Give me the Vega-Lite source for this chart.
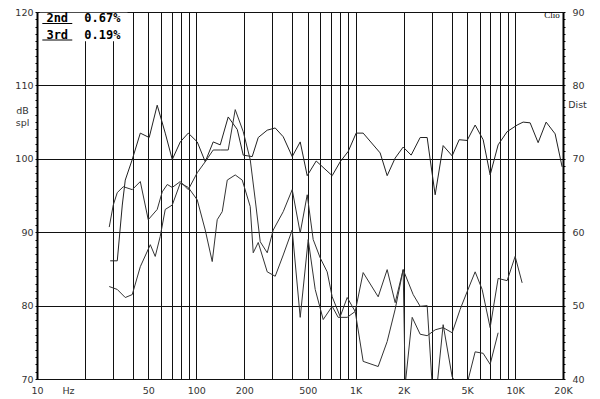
{
  "$schema": "https://vega.github.io/schema/vega-lite/v6.json",
  "width": 526,
  "height": 367,
  "autosize": "none",
  "padding": {"left": 37, "top": 12, "right": 37, "bottom": 20},
  "background": "white",
  "config": {
    "view": {"stroke": null},
    "axis": {"labelFont": "DejaVu Sans", "labelFontSize": 9.5, "labelColor": "#333", "titleFont": "DejaVu Sans", "titleFontSize": 9.5, "titleFontWeight": "normal", "titleColor": "#333"}
  },
  "datasets": {
    "fundamental": [
      {"freq": 28.8, "spl": 86.1}, {"freq": 31.9, "spl": 86.1}, {"freq": 34.3, "spl": 93.7}, {"freq": 35.8, "spl": 97.1},
      {"freq": 39.6, "spl": 99.9}, {"freq": 44.5, "spl": 103.5}, {"freq": 50.6, "spl": 102.9}, {"freq": 56.8, "spl": 107.3},
      {"freq": 63.8, "spl": 103.5}, {"freq": 70.6, "spl": 99.9}, {"freq": 79.3, "spl": 102.3}, {"freq": 89.0, "spl": 103.5},
      {"freq": 101.3, "spl": 102.3}, {"freq": 113.7, "spl": 99.6}, {"freq": 127.6, "spl": 102.3}, {"freq": 141.2, "spl": 101.9},
      {"freq": 158.5, "spl": 105.7}, {"freq": 180.6, "spl": 104.0}, {"freq": 196.9, "spl": 100.5}, {"freq": 224.2, "spl": 100.3},
      {"freq": 244.6, "spl": 102.9}, {"freq": 278.5, "spl": 103.9}, {"freq": 312.6, "spl": 104.2}, {"freq": 351.0, "spl": 103.0},
      {"freq": 399.6, "spl": 100.3}, {"freq": 448.6, "spl": 102.3}, {"freq": 496.3, "spl": 97.7}, {"freq": 565.2, "spl": 99.7},
      {"freq": 712.0, "spl": 97.7}, {"freq": 799.4, "spl": 99.6}, {"freq": 897.4, "spl": 101.0}, {"freq": 1007, "spl": 103.5},
      {"freq": 1114, "spl": 103.5}, {"freq": 1424, "spl": 100.8}, {"freq": 1576, "spl": 97.7}, {"freq": 1769, "spl": 100.1},
      {"freq": 1986, "spl": 101.6}, {"freq": 2229, "spl": 100.5}, {"freq": 2539, "spl": 102.9}, {"freq": 2809, "spl": 102.9},
      {"freq": 2934, "spl": 99.9}, {"freq": 3153, "spl": 95.1}, {"freq": 3539, "spl": 101.8}, {"freq": 4031, "spl": 100.4},
      {"freq": 4461, "spl": 102.6}, {"freq": 5006, "spl": 102.5}, {"freq": 5619, "spl": 104.6}, {"freq": 6308, "spl": 102.6},
      {"freq": 6980, "spl": 97.8}, {"freq": 7834, "spl": 101.9}, {"freq": 8921, "spl": 103.7}, {"freq": 10308, "spl": 104.6},
      {"freq": 11240, "spl": 105.0}, {"freq": 12437, "spl": 104.9}, {"freq": 13964, "spl": 102.2}, {"freq": 15675, "spl": 105.0},
      {"freq": 17850, "spl": 103.4}, {"freq": 19748, "spl": 98.9}
    ],
    "harmonics": [
      {"order": "2nd", "freq": 28.4, "dist": 52.6}, {"order": "2nd", "freq": 31.9, "dist": 52.2}, {"order": "2nd", "freq": 35.8, "dist": 51.1},
      {"order": "2nd", "freq": 39.6, "dist": 51.5}, {"order": "2nd", "freq": 44.5, "dist": 55.3}, {"order": "2nd", "freq": 51.4, "dist": 58.3},
      {"order": "2nd", "freq": 55.2, "dist": 56.7}, {"order": "2nd", "freq": 59.3, "dist": 59.4}, {"order": "2nd", "freq": 63.8, "dist": 63.1},
      {"order": "2nd", "freq": 70.6, "dist": 63.7}, {"order": "2nd", "freq": 79.3, "dist": 66.7}, {"order": "2nd", "freq": 89.0, "dist": 66.1},
      {"order": "2nd", "freq": 101.3, "dist": 64.4}, {"order": "2nd", "freq": 113.7, "dist": 60.3}, {"order": "2nd", "freq": 125.8, "dist": 56.0},
      {"order": "2nd", "freq": 135.2, "dist": 61.7}, {"order": "2nd", "freq": 145.4, "dist": 62.8}, {"order": "2nd", "freq": 156.3, "dist": 67.1},
      {"order": "2nd", "freq": 175.4, "dist": 67.8}, {"order": "2nd", "freq": 194.1, "dist": 67.1}, {"order": "2nd", "freq": 217.8, "dist": 63.5},
      {"order": "2nd", "freq": 227.5, "dist": 57.2}, {"order": "2nd", "freq": 244.6, "dist": 58.6}, {"order": "2nd", "freq": 278.5, "dist": 54.6},
      {"order": "2nd", "freq": 312.6, "dist": 54.0}, {"order": "2nd", "freq": 351.0, "dist": 56.9}, {"order": "2nd", "freq": 399.6, "dist": 60.3},
      {"order": "2nd", "freq": 448.6, "dist": 48.4}, {"order": "2nd", "freq": 503.5, "dist": 59.0}, {"order": "2nd", "freq": 557.1, "dist": 52.2},
      {"order": "2nd", "freq": 625.5, "dist": 48.1}, {"order": "2nd", "freq": 712.0, "dist": 49.9}, {"order": "2nd", "freq": 776.5, "dist": 48.4},
      {"order": "2nd", "freq": 884.6, "dist": 48.4}, {"order": "2nd", "freq": 992.9, "dist": 49.2}, {"order": "2nd", "freq": 1114, "dist": 54.5},
      {"order": "2nd", "freq": 1384, "dist": 51.2}, {"order": "2nd", "freq": 1576, "dist": 54.9}, {"order": "2nd", "freq": 1769, "dist": 50.4},
      {"order": "2nd", "freq": 1986, "dist": 54.9}, {"order": "2nd", "freq": 2045, "dist": 39.2}, {"order": "2nd", "freq": 2262, "dist": 48.4},
      {"order": "2nd", "freq": 2539, "dist": 46.1}, {"order": "2nd", "freq": 2809, "dist": 45.9}, {"order": "2nd", "freq": 3153, "dist": 46.7},
      {"order": "2nd", "freq": 3539, "dist": 47.0}, {"order": "2nd", "freq": 4031, "dist": 46.3}, {"order": "2nd", "freq": 4525, "dist": 49.5},
      {"order": "2nd", "freq": 5006, "dist": 51.9}, {"order": "2nd", "freq": 5619, "dist": 54.6}, {"order": "2nd", "freq": 6218, "dist": 52.2},
      {"order": "2nd", "freq": 6980, "dist": 47.0}, {"order": "2nd", "freq": 7834, "dist": 53.7}, {"order": "2nd", "freq": 8921, "dist": 53.4},
      {"order": "2nd", "freq": 10014, "dist": 56.7}, {"order": "2nd", "freq": 11081, "dist": 53.1},
      {"order": "3rd", "freq": 28.4, "dist": 60.7}, {"order": "3rd", "freq": 30.1, "dist": 63.7}, {"order": "3rd", "freq": 31.9, "dist": 65.4},
      {"order": "3rd", "freq": 34.8, "dist": 66.2}, {"order": "3rd", "freq": 39.6, "dist": 65.8}, {"order": "3rd", "freq": 44.5, "dist": 66.9},
      {"order": "3rd", "freq": 49.9, "dist": 61.7}, {"order": "3rd", "freq": 56.8, "dist": 63.1}, {"order": "3rd", "freq": 61.1, "dist": 65.5},
      {"order": "3rd", "freq": 65.7, "dist": 66.5}, {"order": "3rd", "freq": 70.6, "dist": 66.1}, {"order": "3rd", "freq": 79.3, "dist": 66.9},
      {"order": "3rd", "freq": 89.0, "dist": 65.8}, {"order": "3rd", "freq": 101.3, "dist": 68.1}, {"order": "3rd", "freq": 113.7, "dist": 69.6},
      {"order": "3rd", "freq": 127.6, "dist": 71.2}, {"order": "3rd", "freq": 141.2, "dist": 71.2}, {"order": "3rd", "freq": 158.5, "dist": 71.2},
      {"order": "3rd", "freq": 175.4, "dist": 76.7}, {"order": "3rd", "freq": 196.9, "dist": 73.7}, {"order": "3rd", "freq": 217.8, "dist": 69.9},
      {"order": "3rd", "freq": 234.2, "dist": 64.4}, {"order": "3rd", "freq": 251.7, "dist": 58.7}, {"order": "3rd", "freq": 278.5, "dist": 57.2},
      {"order": "3rd", "freq": 303.7, "dist": 60.3}, {"order": "3rd", "freq": 351.0, "dist": 62.8}, {"order": "3rd", "freq": 399.6, "dist": 65.8},
      {"order": "3rd", "freq": 448.6, "dist": 59.9}, {"order": "3rd", "freq": 496.3, "dist": 65.1}, {"order": "3rd", "freq": 541.2, "dist": 59.0},
      {"order": "3rd", "freq": 598.8, "dist": 56.5}, {"order": "3rd", "freq": 662.4, "dist": 54.6}, {"order": "3rd", "freq": 712.0, "dist": 51.2},
      {"order": "3rd", "freq": 799.4, "dist": 48.5}, {"order": "3rd", "freq": 884.6, "dist": 51.1}, {"order": "3rd", "freq": 992.9, "dist": 49.2},
      {"order": "3rd", "freq": 1114, "dist": 42.4}, {"order": "3rd", "freq": 1384, "dist": 41.7}, {"order": "3rd", "freq": 1576, "dist": 45.1},
      {"order": "3rd", "freq": 1769, "dist": 49.5}, {"order": "3rd", "freq": 1986, "dist": 54.9}, {"order": "3rd", "freq": 2295, "dist": 51.5},
      {"order": "3rd", "freq": 2539, "dist": 49.9}, {"order": "3rd", "freq": 2809, "dist": 50.0}, {"order": "3rd", "freq": 3020, "dist": 39.2},
      {"order": "3rd", "freq": 3246, "dist": 39.2}, {"order": "3rd", "freq": 3539, "dist": 47.4}, {"order": "3rd", "freq": 4031, "dist": 40.3},
      {"order": "3rd", "freq": 4525, "dist": 38.5}, {"order": "3rd", "freq": 5079, "dist": 39.9}, {"order": "3rd", "freq": 5619, "dist": 43.7},
      {"order": "3rd", "freq": 6308, "dist": 43.5}, {"order": "3rd", "freq": 6980, "dist": 42.0}, {"order": "3rd", "freq": 7834, "dist": 46.3}
    ],
    "legend": [
      {"order": "2nd", "pct": "0.67%"},
      {"order": "3rd", "pct": "0.19%"}
    ]
  },
  "layer": [
    {
      "data": {"name": "fundamental"},
      "mark": {"type": "line", "color": "#222", "strokeWidth": 1, "clip": true},
      "encoding": {
        "x": {
          "field": "freq", "type": "quantitative",
          "scale": {"type": "log", "domain": [10, 20000], "nice": false},
          "axis": {
            "values": [10, 20, 30, 40, 50, 60, 70, 80, 90, 100, 200, 300, 400, 500, 600, 700, 800, 900, 1000, 2000, 3000, 4000, 5000, 6000, 7000, 8000, 9000, 10000, 20000],
            "grid": true, "gridColor": "#111", "gridWidth": 1,
            "ticks": false, "tickSize": 0, "domain": false,
            "labelExpr": "indexof([10,50,100,200,500,1000,2000,5000,10000,20000], datum.value) >= 0 ? (datum.value >= 1000 ? (datum.value / 1000) + 'K' : '' + datum.value) : ''",
            "labelOverlap": false, "labelFlush": false, "labelPadding": 6,
            "title": "Hz", "titleX": 31, "titleY": 11.5, "titleAlign": "center", "titleBaseline": "middle"
          }
        },
        "y": {
          "field": "spl", "type": "quantitative",
          "scale": {"domain": [70, 120], "nice": false},
          "axis": {
            "orient": "left",
            "values": [70,71,72,73,74,75,76,77,78,79,80,81,82,83,84,85,86,87,88,89,90,91,92,93,94,95,96,97,98,99,100,101,102,103,104,105,106,107,108,109,110,111,112,113,114,115,116,117,118,119,120],
            "labelExpr": "datum.value % 10 === 0 ? datum.label : ''",
            "grid": true, "gridColor": "#111",
            "gridOpacity": {"condition": {"test": "datum.value % 10 === 0", "value": 1}, "value": 0},
            "ticks": true, "tickSize": 2, "tickColor": "#000",
            "domain": true, "domainColor": "#000", "domainWidth": 2,
            "labelPadding": 2, "labelOverlap": false, "labelFlush": false,
            "title": ["dB", "spl"], "titleAngle": 0, "titleX": -15, "titleY": 98,
            "titleAlign": "center", "titleBaseline": "middle", "titleLineHeight": 12
          }
        }
      }
    },
    {
      "data": {"name": "harmonics"},
      "mark": {"type": "line", "color": "#333", "strokeWidth": 1, "clip": true},
      "encoding": {
        "x": {"field": "freq", "type": "quantitative"},
        "y": {
          "field": "dist", "type": "quantitative",
          "scale": {"domain": [40, 90], "nice": false},
          "axis": {
            "orient": "right",
            "values": [40,41,42,43,44,45,46,47,48,49,50,51,52,53,54,55,56,57,58,59,60,61,62,63,64,65,66,67,68,69,70,71,72,73,74,75,76,77,78,79,80,81,82,83,84,85,86,87,88,89,90],
            "labelExpr": "datum.value % 10 === 0 ? datum.label : ''",
            "grid": false,
            "ticks": true, "tickSize": 2, "tickColor": "#000",
            "domain": true, "domainColor": "#000", "domainWidth": 2,
            "labelPadding": 7, "labelOverlap": false, "labelFlush": false,
            "title": "Dist", "titleAngle": 0, "titleX": 14, "titleY": 92.5,
            "titleAlign": "center", "titleBaseline": "middle"
          }
        },
        "detail": {"field": "order", "type": "nominal"}
      }
    },
    {
      "data": {"values": [{}]},
      "mark": {"type": "rect", "color": "white"},
      "encoding": {
        "x": {"datum": 10.4, "type": "quantitative"},
        "x2": {"datum": 37},
        "y": {"datum": 116.0, "type": "quantitative", "scale": {"domain": [70, 120], "nice": false}, "axis": null},
        "y2": {"datum": 119.9}
      }
    },
    {
      "data": {"name": "legend"},
      "mark": {"type": "text", "font": "DejaVu Sans Mono", "fontWeight": "bold", "fontSize": 12, "color": "#000", "align": "center", "baseline": "middle"},
      "encoding": {
        "x": {"datum": 13.4, "type": "quantitative"},
        "y": {"field": "order", "type": "ordinal", "scale": {"type": "point", "domain": ["2nd", "3rd"], "range": [5.5, 22.5], "padding": 0}, "axis": null},
        "text": {"field": "order"}
      }
    },
    {
      "data": {"name": "legend"},
      "mark": {"type": "text", "font": "DejaVu Sans Mono", "fontWeight": "bold", "fontSize": 12, "color": "#000", "align": "center", "baseline": "middle"},
      "encoding": {
        "x": {"datum": 25.7, "type": "quantitative"},
        "y": {"field": "order", "type": "ordinal", "scale": {"type": "point", "domain": ["2nd", "3rd"], "range": [5.5, 22.5], "padding": 0}, "axis": null},
        "text": {"field": "pct"}
      }
    },
    {
      "data": {"name": "legend"},
      "mark": {"type": "rule", "color": "#000", "strokeWidth": 1},
      "encoding": {
        "x": {"datum": 10.8, "type": "quantitative"},
        "x2": {"datum": 16.65},
        "y": {"field": "order", "type": "ordinal", "scale": {"type": "point", "domain": ["2nd", "3rd"], "range": [11.5, 28], "padding": 0}, "axis": null}
      }
    },
    {
      "data": {"values": [{"brand": "Clio"}]},
      "mark": {"type": "text", "font": "Liberation Serif", "fontSize": 9, "color": "#000", "align": "center", "baseline": "middle"},
      "encoding": {
        "x": {"datum": 17090, "type": "quantitative"},
        "y": {"datum": 119.6, "type": "quantitative", "scale": {"domain": [70, 120], "nice": false}, "axis": null},
        "text": {"field": "brand"}
      }
    }
  ],
  "resolve": {"scale": {"y": "independent"}}
}
